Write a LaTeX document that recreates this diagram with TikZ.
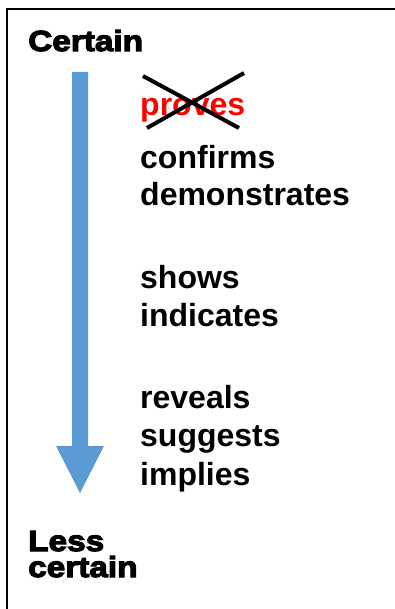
\documentclass[tikz,border=0pt]{standalone}
\usepackage{fontspec}
\setmainfont{Liberation Sans}
\newfontfamily\blackfont[FakeBold=4,FakeStretch=1.15]{Liberation Sans Bold}
\definecolor{arrowblue}{HTML}{5B9BD5}
\definecolor{provered}{HTML}{FF0000}
\begin{document}
\begin{tikzpicture}[x=1pt,y=-1pt,
  word/.style={anchor=base west,inner sep=0pt,font=\fontsize{32}{37}\selectfont\bfseries},
  heading/.style={anchor=base west,inner sep=0pt,align=left,font=\fontsize{29}{26}\selectfont\blackfont},
  crossline/.style={line width=4pt,black}]
\useasboundingbox (0,0) rectangle (395,609);
\fill[white] (0,0) rectangle (395,609);
\draw[line width=2pt] (7,610) -- (7,9) -- (396,9);
\node[heading] (certain) at (28,51) {Certain};
\fill[arrowblue] (72,72) -- (88,72) -- (88,446) -- (104,446) -- (80,493) -- (56,446) -- (72,446) -- cycle;
\node[word,text=provered] (proves) at (140,116) {proves};
\draw[crossline] (143,76) -- (239,128);
\draw[crossline] (244,73) -- (147,128);
\node[word] (confirms) at (140,169) {confirms};
\node[word] (demonstrates) at (140,206) {demonstrates};
\node[word] (shows) at (140,288) {shows};
\node[word] (indicates) at (140,326) {indicates};
\node[word] (reveals) at (140,408) {reveals};
\node[word] (suggests) at (140,446) {suggests};
\node[word] (implies) at (140,485) {implies};
\node[heading] (less) at (28,577) {Less\\certain};
\end{tikzpicture}
\end{document}
